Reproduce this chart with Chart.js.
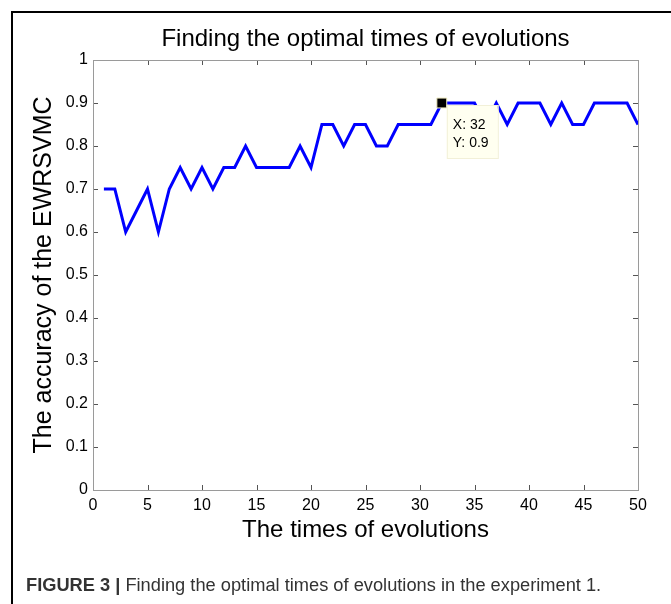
<!DOCTYPE html>
<html>
<head>
<meta charset="utf-8">
<script src="https://cdn.jsdelivr.net/npm/chart.js@4.4.0/dist/chart.umd.min.js"></script>
<style>
  html, body { margin: 0; padding: 0; background: #fff; }
  body { width: 671px; height: 604px; position: relative; overflow: hidden; font-family: 'Liberation Sans', Arial, sans-serif; }
  #frame { position: absolute; left: 11px; top: 11px; width: 720px; height: 720px; border: 2px solid #000; }
  #wrap { position: absolute; left: 0; top: 0; width: 671px; height: 604px; }
  #caption { position: absolute; left: 26px; top: 574px; font-size: 18.25px; color: #333; white-space: nowrap; }
  #caption b { color: #333; }
</style>
</head>
<body>
<div id="frame"></div>
<div id="wrap"><canvas id="grafica"></canvas></div>
<div id="caption"><b>FIGURE 3 |</b> Finding the optimal times of evolutions in the experiment 1.</div>
<script>
const evoluciones = [1, 2, 3, 4, 5, 6, 7, 8, 9, 10, 11, 12, 13, 14, 15, 16, 17, 18, 19, 20, 21, 22, 23, 24, 25,
                     26, 27, 28, 29, 30, 31, 32, 33, 34, 35, 36, 37, 38, 39, 40, 41, 42, 43, 44, 45, 46, 47, 48, 49, 50];
const precision = [0.7, 0.7, 0.6, 0.65, 0.7, 0.6, 0.7, 0.75, 0.7, 0.75, 0.7, 0.75, 0.75, 0.8, 0.75, 0.75, 0.75, 0.75, 0.8, 0.75, 0.85, 0.85, 0.8, 0.85, 0.85,
                   0.8, 0.8, 0.85, 0.85, 0.85, 0.85, 0.9, 0.9, 0.9, 0.9, 0.85, 0.9, 0.85, 0.9, 0.9, 0.9, 0.85, 0.9, 0.85, 0.85, 0.9, 0.9, 0.9, 0.9, 0.85];
const ticksX = [0, 5, 10, 15, 20, 25, 30, 35, 40, 45, 50];
const ticksY = [0, 0.1, 0.2, 0.3, 0.4, 0.5, 0.6, 0.7, 0.8, 0.9, 1];
const marcaX = [32];
const marcaY = [0.9];

const fuente = "'Liberation Sans', Arial, sans-serif";

// caja del eje con marcas hacia dentro (estilo MATLAB) y la etiqueta del punto
const cajaEjes = {
  id: 'cajaEjes',
  beforeDatasetsDraw(chart) {
    const { ctx, chartArea: a, scales: { x, y } } = chart;
    ctx.save();
    ctx.strokeStyle = '#555';
    ctx.lineWidth = 1;
    ctx.beginPath();
    ticksX.forEach(v => {
      const px = Math.round(x.getPixelForValue(v)) + 0.5;
      ctx.moveTo(px, a.bottom); ctx.lineTo(px, a.bottom - 5);
      ctx.moveTo(px, a.top); ctx.lineTo(px, a.top + 5);
    });
    ticksY.forEach(v => {
      const py = Math.round(y.getPixelForValue(v)) + 0.5;
      ctx.moveTo(a.left, py); ctx.lineTo(a.left + 5, py);
      ctx.moveTo(a.right, py); ctx.lineTo(a.right - 5, py);
    });
    ctx.stroke();
    ctx.strokeStyle = '#9a9a9a';
    ctx.strokeRect(Math.round(a.left) + 0.5, Math.round(a.top) + 0.5, Math.round(a.right - a.left), Math.round(a.bottom - a.top));
    ctx.restore();
  },
  afterDatasetsDraw(chart) {
    const { ctx, scales: { x, y } } = chart;
    const px = x.getPixelForValue(marcaX[0]);
    const py = y.getPixelForValue(marcaY[0]);
    const bx = px + 5, by = py + 2, bw = 51, bh = 53;
    ctx.save();
    ctx.fillStyle = '#fffff0';
    ctx.fillRect(bx, by, bw, bh);
    ctx.strokeStyle = '#f2f0d8';
    ctx.strokeRect(bx + 0.5, by + 0.5, bw, bh);
    ctx.fillStyle = '#000';
    ctx.font = '14px ' + fuente;
    ctx.textBaseline = 'middle';
    ctx.fillText('X: ' + marcaX[0], bx + 6, by + 20);
    ctx.fillText('Y: ' + marcaY[0], bx + 6, by + 38);
    ctx.restore();
  }
};

const ctx = document.getElementById('grafica').getContext('2d');

const grafica = new Chart(ctx, {
  type: 'line',
  data: {
    datasets: [{
      data: evoluciones.map((e, i) => ({ x: e, y: precision[i] })),
      borderColor: '#0000ff',
      borderWidth: 3,
      pointRadius: 0,
      tension: 0,
      order: 2
    }, {
      data: marcaX.map((e, i) => ({ x: e, y: marcaY[i] })),
      showLine: false,
      pointStyle: 'rect',
      pointRadius: 7,
      backgroundColor: '#000',
      borderColor: '#f0ecc0',
      borderWidth: 1,
      order: 1
    }]
  },
  options: {
    responsive: true,
    maintainAspectRatio: false,
    animation: false,
    events: [],
    layout: { padding: { left: 0, top: 0, right: 33, bottom: 0 } },
    plugins: {
      legend: { display: false },
      tooltip: { enabled: false },
      title: {
        display: true,
        fullSize: false,
        text: 'Finding the optimal times of evolutions',
        color: '#000',
        font: { family: fuente, size: 24, weight: 'normal' },
        padding: { top: 25, bottom: 6.2 }
      }
    },
    scales: {
      x: {
        type: 'linear',
        min: 0,
        max: 50,
        afterBuildTicks: s => { s.ticks = ticksX.map(v => ({ value: v })); },
        afterFit: s => { s.height = 114; },
        grid: { display: false, drawTicks: false },
        border: { display: false },
        ticks: { color: '#000', padding: 6, maxRotation: 0, font: { family: fuente, size: 16 } },
        title: {
          display: true,
          text: 'The times of evolutions',
          color: '#000',
          font: { family: fuente, size: 24 },
          padding: { top: 0, bottom: 59 }
        }
      },
      y: {
        min: 0,
        max: 1,
        afterBuildTicks: s => { s.ticks = ticksY.map(v => ({ value: v })); },
        afterFit: s => { s.width = 93; },
        grid: { display: false, drawTicks: false },
        border: { display: false },
        ticks: { color: '#000', padding: 5, font: { family: fuente, size: 16 }, callback: v => String(v) },
        title: {
          display: true,
          text: 'The accuracy of the EWRSVMC',
          color: '#000',
          font: { family: fuente, size: 25 },
          padding: { top: 29, bottom: 0 }
        }
      }
    }
  },
  plugins: [cajaEjes]
});
</script>
</body>
</html>
